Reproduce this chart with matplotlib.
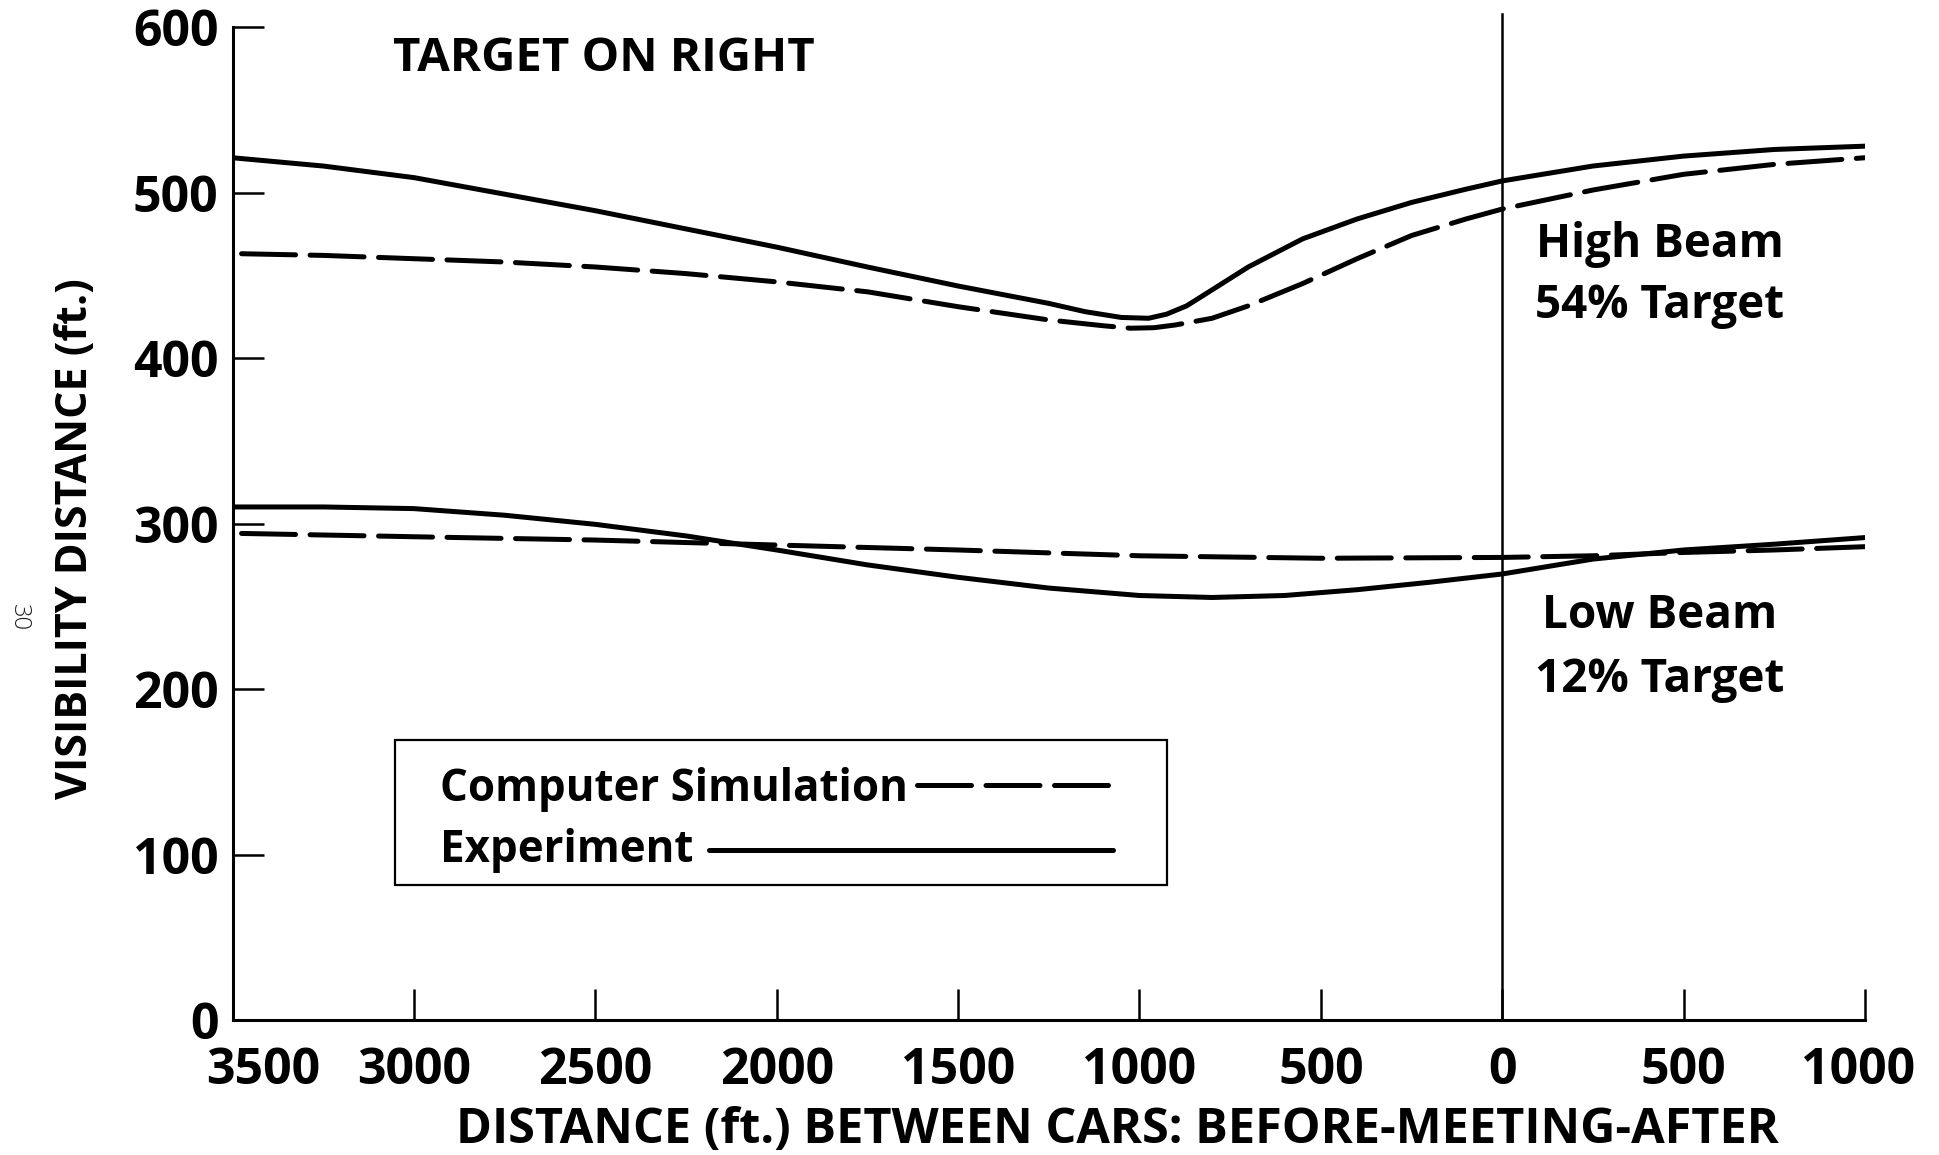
import matplotlib
matplotlib.use('Agg')
import matplotlib.pyplot as plt
from matplotlib.transforms import ScaledTranslation
from matplotlib.patches import Rectangle
from matplotlib.lines import Line2D

# ---------------- data ----------------
# x: distance between cars in ft; negative = before meeting, positive = after
x_high_exp = [-3500, -3250, -3000, -2750, -2500, -2250, -2000, -1750, -1500, -1250,
              -1150, -1050, -975, -925, -870, -830, -700, -550, -400, -250, -100, 0,
              250, 500, 750, 1000]
high_exp = [521, 516, 509, 499, 489, 478, 467, 455, 443.5, 433,
            428, 424.5, 424, 426.5, 431.5, 437, 455, 472, 484, 494, 502, 507,
            516, 522, 526, 528]

x_high_sim = [-3475, -3250, -3000, -2750, -2500, -2250, -2000, -1750, -1500, -1250,
              -1100, -1025, -960, -900, -800, -700, -550, -400, -250, -100, 0,
              250, 500, 750, 1000]
high_sim = [463, 462, 460, 458, 455, 451, 446, 440, 431, 423,
            419.5, 418, 418.3, 420, 424, 431.5, 445, 460, 474, 484, 490,
            501.5, 511, 517, 521]

x_low_exp = [-3500, -3250, -3000, -2750, -2500, -2250, -2000, -1750, -1500, -1250,
             -1000, -800, -600, -400, -200, 0, 250, 500, 750, 1000]
low_exp = [310, 310, 309, 305, 299.5, 292.5, 284, 275, 267.5, 261,
           256.5, 255.3, 256.5, 260, 264.5, 269.5, 278.5, 284, 287.5, 291.5]

x_low_sim = [-3475, -3000, -2500, -2000, -1500, -1000, -500, 0, 250, 500, 750, 1000]
low_sim = [294, 292, 290, 287, 284, 280.5, 279, 279.5, 280.5, 282.5, 284, 286]

x_ticks = [-3500, -3000, -2500, -2000, -1500, -1000, -500, 0, 500, 1000]
x_tick_labels = ['3500', '3000', '2500', '2000', '1500', '1000', '500', '0', '500', '1000']
y_ticks = [0, 100, 200, 300, 400, 500, 600]
y_tick_labels = ['0', '100', '200', '300', '400', '500', '600']

legend_sim = 'Computer Simulation'
legend_exp = 'Experiment'
title_text = 'TARGET ON RIGHT'
high_label = ['High Beam', '54% Target']
low_label = ['Low Beam', '12% Target']
x_label = 'DISTANCE (ft.) BETWEEN CARS: BEFORE-MEETING-AFTER'
y_label = 'VISIBILITY DISTANCE (ft.)'
page_no = '30'

# ---------------- style ----------------
plt.rcParams['font.family'] = ['Open Sans', 'DejaVu Sans']
plt.rcParams['font.weight'] = 'bold'

LW = 3.6
DASH = (10.8, 2.9)

fig = plt.figure(figsize=(19.39, 11.55), dpi=100)
fig.patch.set_facecolor('white')
ax = fig.add_axes([0.11991, 0.11688, 0.84193, 0.85974])
ax.set_xlim(-3500, 1000)
ax.set_ylim(0, 600)
for s in ['top', 'right']:
    ax.spines[s].set_visible(False)
for s in ['left', 'bottom']:
    ax.spines[s].set_linewidth(2.2)
    ax.spines[s].set_capstyle('projecting')

ax.set_xticks(x_ticks, x_tick_labels)
ax.set_yticks(y_ticks, y_tick_labels)
ax.tick_params(axis='x', direction='in', length=22, width=1.8, pad=18.5,
               labelsize=36)
ax.tick_params(axis='y', direction='in', length=22, width=1.8, pad=10,
               labelsize=36)
for lab in ax.get_xticklabels() + ax.get_yticklabels():
    lab.set_fontweight('bold')
xl = ax.get_xticklabels()
xl[0].set_transform(xl[0].get_transform() + ScaledTranslation(0.31, 0, fig.dpi_scale_trans))
xl[-1].set_transform(xl[-1].get_transform() + ScaledTranslation(-0.07, 0, fig.dpi_scale_trans))

# curves
ax.plot(x_high_exp, high_exp, color='black', lw=LW, solid_capstyle='round',
        solid_joinstyle='round')
ax.plot(x_high_sim, high_sim, color='black', lw=LW, dashes=DASH, dash_capstyle='round')
ax.plot(x_low_exp, low_exp, color='black', lw=LW, solid_capstyle='round',
        solid_joinstyle='round')
ax.plot(x_low_sim, low_sim, color='black', lw=LW, dashes=DASH, dash_capstyle='round')

# meeting line
ax.axvline(0, ymin=0, ymax=1.013, color='black', lw=1.8, clip_on=False)

# annotations
ax.text(0.0983, 0.9557, title_text, transform=ax.transAxes, fontsize=34,
        fontweight='bold', ha='left', va='baseline')
ax.text(0.8744, 0.7684, high_label[0], transform=ax.transAxes, fontsize=33,
        fontweight='bold', ha='center', va='baseline')
ax.text(0.8744, 0.7069, high_label[1], transform=ax.transAxes, fontsize=33,
        fontweight='bold', ha='center', va='baseline')
ax.text(0.8744, 0.3948, low_label[0], transform=ax.transAxes, fontsize=33,
        fontweight='bold', ha='center', va='baseline')
ax.text(0.8744, 0.3306, low_label[1], transform=ax.transAxes, fontsize=33,
        fontweight='bold', ha='center', va='baseline')

# legend box
ax.add_patch(Rectangle((0.0995, 0.1360), 0.5724 - 0.0995, 0.2820 - 0.1360,
                       transform=ax.transAxes, fill=False, lw=1.6,
                       edgecolor='black'))
ax.text(0.1271, 0.2205, legend_sim, transform=ax.transAxes, fontsize=31.6,
        fontweight='bold', ha='left', va='baseline')
ax.text(0.1271, 0.1591, legend_exp, transform=ax.transAxes, fontsize=31.6,
        fontweight='bold', ha='left', va='baseline')
ax.add_line(Line2D([0.4195, 0.5369], [0.2367, 0.2367], transform=ax.transAxes,
                   color='black', lw=LW, dashes=DASH, dash_capstyle='round'))
ax.add_line(Line2D([0.2920, 0.5394], [0.1712, 0.1712], transform=ax.transAxes,
                   color='black', lw=LW, solid_capstyle='round'))

# axis labels
fig.text(0.5761, 0.0100, x_label, fontsize=35, fontweight='bold',
         ha='center', va='baseline')
fig.text(0.0387, 0.5333, y_label, fontsize=31, fontweight='bold',
         rotation=90, ha='center', va='center')

# page number
fig.text(0.0098, 0.465, page_no, fontsize=17, fontweight='light',
         color='#222222', rotation=-90, ha='center', va='center')

fig.savefig('out.png', dpi=100, facecolor='white')
